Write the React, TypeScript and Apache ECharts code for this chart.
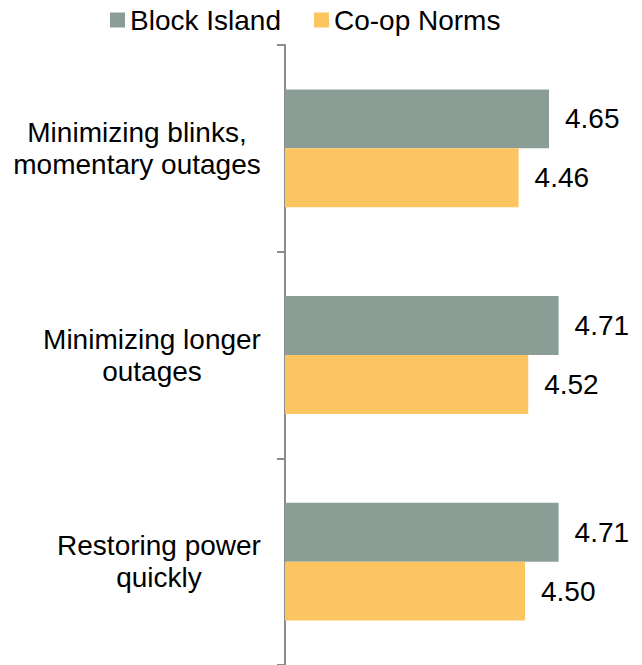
import React, { useEffect, useRef } from "react";
import * as echarts from "echarts";

const categories = [
  "Minimizing blinks,\nmomentary outages",
  "Minimizing longer\noutages",
  "Restoring power\nquickly",
];
const blockIsland = [4.65, 4.71, 4.71];
const coopNorms = [4.46, 4.52, 4.5];
const seriesNames = ["Block Island", "Co-op Norms"];

const FONT = "'Liberation Sans', Arial, sans-serif";
const FS = 28;

function measure(text: string): number {
  const c = document.createElement("canvas");
  const ctx = c.getContext("2d");
  if (!ctx) return text.length * FS * 0.5;
  ctx.font = `${FS}px ${FONT}`;
  return ctx.measureText(text).width;
}

export default function App() {
  const ref = useRef<HTMLDivElement>(null);
  useEffect(() => {
    if (!ref.current) return;
    const chart = echarts.init(ref.current, null, { renderer: "svg" });
    const rich: Record<string, any> = {};
    categories.forEach((cat, i) => {
      const w = Math.ceil(Math.max(...cat.split("\n").map(measure)));
      rich["c" + i] = {
        width: w,
        align: "center",
        fontSize: FS,
        lineHeight: 32,
        color: "#000",
        fontFamily: FONT,
      };
    });
    chart.setOption({
      animation: false,
      textStyle: { fontFamily: FONT },
      legend: {
        data: seriesNames,
        left: 110,
        top: 6,
        padding: 0,
        itemWidth: 15,
        itemHeight: 15,
        itemGap: 33,
        icon: "rect",
        textStyle: { fontSize: FS, color: "#000", fontFamily: FONT },
      },
      grid: { left: 285, right: 37, top: 45, bottom: -1, containLabel: false },
      xAxis: {
        type: "value",
        min: 3,
        max: 5,
        show: false,
        splitLine: { show: false },
      },
      yAxis: {
        type: "category",
        data: categories,
        inverse: true,
        axisLine: { show: true, lineStyle: { color: "#8c8c8c", width: 2 } },
        axisTick: { show: true, length: 8, lineStyle: { color: "#8c8c8c", width: 2 } },
        axisLabel: {
          fontSize: FS,
          lineHeight: 32,
          color: "#000",
          align: "right",
          margin: 24,
          fontFamily: FONT,
          rich,
          formatter: (val: string, idx: number) =>
            val
              .split("\n")
              .map((l) => `{c${idx}|${l}}`)
              .join("\n"),
        },
      },
      series: [
        {
          name: seriesNames[0],
          type: "bar",
          data: blockIsland,
          barCategoryGap: "43%",
          barGap: "0%",
          itemStyle: { color: "#8A9E96" },
          label: {
            show: true,
            position: "right",
            distance: 16,
            fontSize: FS,
            color: "#000",
            fontFamily: FONT,
            formatter: (p: any) => p.value.toFixed(2),
          },
        },
        {
          name: seriesNames[1],
          type: "bar",
          data: coopNorms,
          barCategoryGap: "43%",
          barGap: "0%",
          itemStyle: { color: "#FDC462" },
          label: {
            show: true,
            position: "right",
            distance: 16,
            fontSize: FS,
            color: "#000",
            fontFamily: FONT,
            formatter: (p: any) => p.value.toFixed(2),
          },
        },
      ],
    });
    return () => chart.dispose();
  }, []);
  return (
    <div
      ref={ref}
      style={{ position: "absolute", left: 0, top: 0, width: 642, height: 665, background: "#fff" }}
    />
  );
}
